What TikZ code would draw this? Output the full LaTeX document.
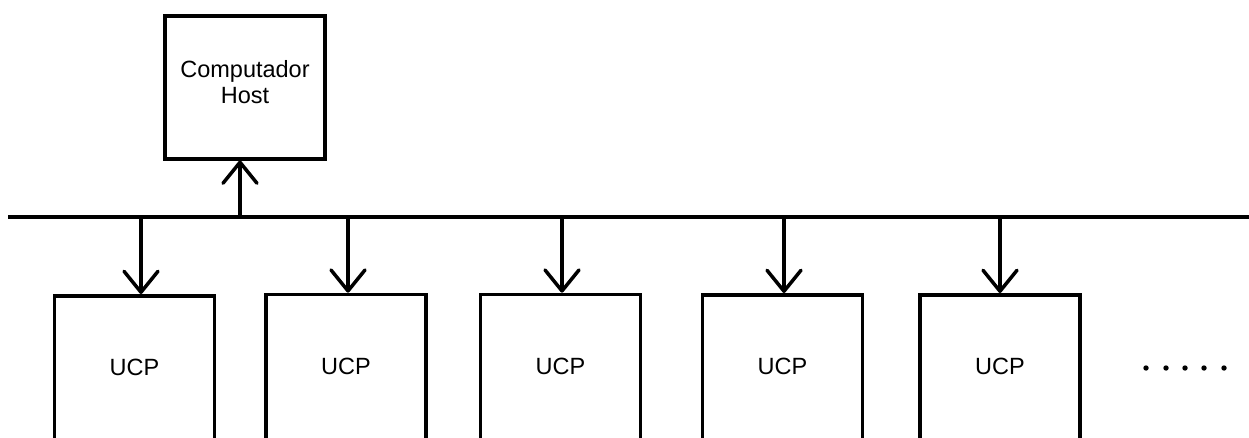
\documentclass[tikz,border=0pt]{standalone}
\usepackage{fontspec}
\setmainfont{Liberation Sans}
\usetikzlibrary{arrows.meta}
\begin{document}
\begin{tikzpicture}[x=1pt,y=-1pt,
  boxline/.style={line width=3.5pt},
  unit/.style={boxline,draw,rectangle,inner sep=0pt,anchor=north},
  lbl/.style={font=\fontsize{23.5}{26}\selectfont,align=center},
  conn/.style={line width=3.5pt,-{Straight Barb[length=21pt,width=34pt,line cap=round,line join=round]}},
  bus/.style={line width=4pt}
]
\useasboundingbox (0,0) rectangle (1249,437);
\clip (0,0) rectangle (1249,437);

% host computer above the bus
\node[unit,minimum width=160pt,minimum height=143pt,
      label={[lbl,name=hostText,yshift=5pt]center:Computador\\Host}]
  (host) at (245,14) {};

% shared bus
\coordinate (busL) at (8,216.5);
\coordinate (busR) at (1249,216.5);
\draw[bus] (busL) -- (busR);

% bus to host
\coordinate (hostTap) at (240,216.5);
\draw[conn] (hostTap) -- (hostTap |- host.south);

% processing units hanging from the bus
\foreach \n/\cx/\top/\ax in {1/134.5/294/141, 2/346/292.7/348, 3/560.5/292.7/562,
                             4/782.5/293/784, 5/1000/293/1000} {
  \node[unit,minimum width=160pt,minimum height=177pt,
        label={[lbl,name=ucpText\n,yshift=16.5pt]center:UCP}]
    (ucp\n) at (\cx,\top) {};
  \coordinate (tap\n) at (\ax,219);
  \draw[conn] (tap\n) -- (tap\n |- ucp\n.north);
}

% ellipsis for further units
\foreach \dx in {1146,1166,1185,1204,1224}
  \fill (\dx,368) circle (2.7pt);
\end{tikzpicture}
\end{document}
